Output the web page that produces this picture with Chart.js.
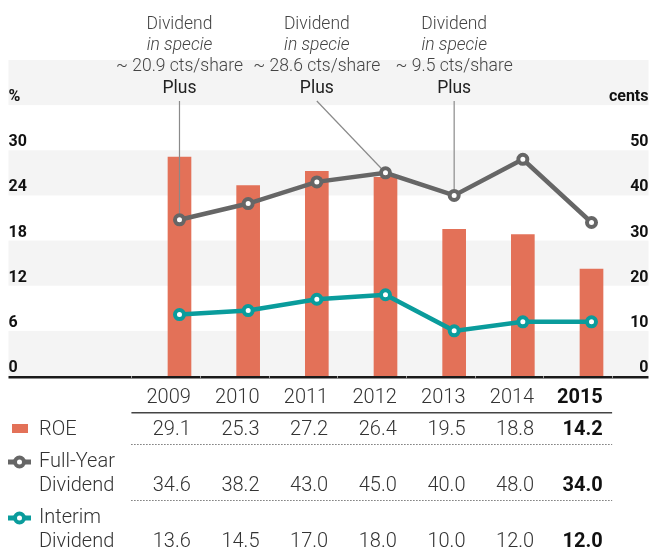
<!DOCTYPE html>
<html>
<head>
<meta charset="utf-8">
<script src="https://cdn.jsdelivr.net/npm/chart.js@4"></script>
<style>
  body { margin: 0; background: #fff; }
  #wrap { width: 657px; height: 557px; }
</style>
</head>
<body>
<div id="wrap"><canvas id="roeChart" width="657" height="557"></canvas></div>
<script>
const years = [2009, 2010, 2011, 2012, 2013, 2014, 2015];
const roe = [29.1, 25.3, 27.2, 26.4, 19.5, 18.8, 14.2];
const fullYearDividend = [34.6, 38.2, 43.0, 45.0, 40.0, 48.0, 34.0];
const interimDividend = [13.6, 14.5, 17.0, 18.0, 10.0, 12.0, 12.0];

// "Dividend in specie" notes: text above the year, leader to the full-year point
const noteYears = [2009, 2011, 2013];
const noteTargets = [2009, 2012, 2013];
const noteAmounts = ['~ 20.9 cts/share', '~ 28.6 cts/share', '~ 9.5 cts/share'];

const ORANGE = '#e37158';
const GREY = '#666666';
const TEAL = '#0a9c9c';
const TEXT = '#333333';

const fmt = v => v.toFixed(1);

// shaded bands go under everything, tick labels included
const bandsPlugin = {
    id: 'bands',
    beforeDraw(chart) {
        const {ctx, chartArea, scales} = chart;
        const y = scales.y;
        ctx.save();
        ctx.fillStyle = '#f4f4f4';
        for (let v = 0; v < 42; v += 12) {
            const top = y.getPixelForValue(v + 6);
            const bottom = y.getPixelForValue(v);
            ctx.fillRect(chartArea.left, top, chartArea.right - chartArea.left, bottom - top);
        }
        ctx.restore();
    }
};

// leader lines go over the bars but under the dividend lines
const leaderPlugin = {
    id: 'leaders',
    afterDatasetDraw(chart, args) {
        if (args.index !== 0) return;
        const {ctx, scales} = chart;
        const fy = chart.getDatasetMeta(1).data;
        ctx.save();
        ctx.strokeStyle = '#8a8a8a';
        ctx.lineWidth = 1.2;
        noteYears.forEach((yr, i) => {
            const sx = scales.x.getPixelForValue(yr);
            const pt = fy[years.indexOf(noteTargets[i])];
            ctx.beginPath();
            ctx.moveTo(sx, 101);
            if (Math.abs(pt.x - sx) < 1) {
                ctx.lineTo(pt.x, pt.y - 6);
            } else {
                const dx = pt.x - sx, dy = pt.y - 101, d = Math.hypot(dx, dy);
                ctx.lineTo(pt.x - dx / d * 6, pt.y - dy / d * 6);
            }
            ctx.stroke();
        });
        ctx.restore();
    }
};

const tablePlugin = {
    id: 'table',
    afterDraw(chart) {
        const {ctx, chartArea, scales} = chart;
        const x = scales.x;
        const step = x.getPixelForValue(years[1]) - x.getPixelForValue(years[0]);
        const colLeft = x.getPixelForValue(years[0]) - 0.7 * step;
        const colRight = x.getPixelForValue(years[years.length - 1]) + 0.3 * step;
        const base = scales.y.getPixelForValue(0);
        ctx.save();

        // axis line
        ctx.fillStyle = '#1a1a1a';
        ctx.fillRect(chartArea.left, base, chartArea.right - chartArea.left, 2.5);
        ctx.fillStyle = '#9a9a9a';
        for (let i = 0; i <= years.length; i++) {
            ctx.fillRect(Math.round(colLeft + i * step), base, 1, 2.5);
        }

        // notes above the chart
        ctx.textAlign = 'center';
        ctx.textBaseline = 'middle';
        noteYears.forEach((yr, i) => {
            const cx = x.getPixelForValue(yr);
            ctx.fillStyle = '#444';
            ctx.font = '300 17.5px Roboto';
            ctx.fillText('Dividend', cx, 25);
            ctx.font = 'italic 300 17.5px Roboto';
            ctx.fillText('in specie', cx, 46);
            ctx.font = '300 17.5px Roboto';
            ctx.fillText(noteAmounts[i], cx, 67);
            ctx.fillStyle = '#222';
            ctx.font = '400 17.5px Roboto';
            ctx.fillText('Plus', cx, 89);
        });

        // header row
        ctx.textAlign = 'right';
        years.forEach((yr, i) => {
            const last = i === years.length - 1;
            ctx.fillStyle = last ? '#111' : TEXT;
            ctx.font = (last ? 'bold ' : '300 ') + '20px Roboto';
            ctx.fillText(String(yr), x.getPixelForValue(yr) + 0.165 * step, 398);
        });
        ctx.fillStyle = '#444';
        ctx.fillRect(colLeft, 412, colRight - colLeft, 1.5);

        // dotted separators
        ctx.strokeStyle = '#333';
        ctx.lineWidth = 1;
        ctx.setLineDash([1, 2]);
        [444.5, 500.5].forEach(yy => {
            ctx.beginPath();
            ctx.moveTo(colLeft, yy);
            ctx.lineTo(colRight, yy);
            ctx.stroke();
        });
        ctx.setLineDash([]);

        const rows = [
            {values: roe, y: 430},
            {values: fullYearDividend, y: 486},
            {values: interimDividend, y: 542}
        ];
        rows.forEach(r => {
            r.values.forEach((v, i) => {
                const last = i === years.length - 1;
                ctx.fillStyle = last ? '#111' : TEXT;
                ctx.font = (last ? 'bold ' : '300 ') + '20px Roboto';
                ctx.fillText(fmt(v), x.getPixelForValue(years[i]) + 0.165 * step, r.y);
            });
        });

        // legend labels
        ctx.textAlign = 'left';
        ctx.fillStyle = TEXT;
        ctx.font = '300 20px Roboto';
        ctx.fillText('ROE', 39, 430);
        ctx.fillText('Full-Year', 39, 462);
        ctx.fillText('Dividend', 39, 486);
        ctx.fillText('Interim', 39, 518);
        ctx.fillText('Dividend', 39, 542);

        ctx.fillStyle = ORANGE;
        ctx.fillRect(12, 424, 16, 9);
        [[GREY, 462], [TEAL, 518]].forEach(([c, yy]) => {
            ctx.strokeStyle = c;
            ctx.lineWidth = 5;
            ctx.beginPath();
            ctx.moveTo(8, yy);
            ctx.lineTo(31, yy);
            ctx.stroke();
            ctx.beginPath();
            ctx.arc(19.5, yy, 4.5, 0, Math.PI * 2);
            ctx.fillStyle = '#fff';
            ctx.fill();
            ctx.lineWidth = 4;
            ctx.stroke();
        });
        ctx.restore();
    }
};

new Chart(document.getElementById('roeChart'), {
    data: {
        datasets: [
            {
                type: 'bar',
                label: 'ROE',
                data: years.map((yr, i) => ({x: yr, y: roe[i]})),
                backgroundColor: ORANGE,
                barThickness: 23,
                yAxisID: 'y',
                order: 3
            },
            {
                type: 'line',
                label: 'Full-Year Dividend',
                data: years.map((yr, i) => ({x: yr, y: fullYearDividend[i]})),
                borderColor: GREY,
                borderWidth: 4.5,
                pointRadius: 4.5,
                pointBorderWidth: 4,
                pointBackgroundColor: '#fff',
                pointBorderColor: GREY,
                yAxisID: 'y1',
                order: 2
            },
            {
                type: 'line',
                label: 'Interim Dividend',
                data: years.map((yr, i) => ({x: yr, y: interimDividend[i]})),
                borderColor: TEAL,
                borderWidth: 4.5,
                pointRadius: 4.5,
                pointBorderWidth: 4,
                pointBackgroundColor: '#fff',
                pointBorderColor: TEAL,
                yAxisID: 'y1',
                order: 1
            }
        ]
    },
    options: {
        responsive: false,
        animation: false,
        layout: { padding: { left: 8, right: 0, top: 60, bottom: 181 } },
        plugins: { legend: { display: false }, tooltip: { enabled: false } },
        scales: {
            x: {
                type: 'linear',
                display: false,
                offset: false,
                min: 2006.51,
                max: 2015.83
            },
            y: {
                position: 'left',
                min: 0,
                max: 42,
                grid: { display: false, drawTicks: false },
                border: { display: false },
                ticks: {
                    stepSize: 6,
                    autoSkip: false,
                    mirror: true,
                    padding: 0,
                    labelOffset: -8,
                    color: '#111',
                    font: { family: 'Roboto', size: 16, weight: 'bold' },
                    callback: v => v === 36 ? '%' : (v > 36 ? '' : v)
                }
            },
            y1: {
                position: 'right',
                min: 0,
                max: 70,
                grid: { display: false, drawTicks: false },
                border: { display: false },
                ticks: {
                    stepSize: 10,
                    autoSkip: false,
                    mirror: true,
                    padding: 0,
                    labelOffset: -8,
                    color: '#111',
                    font: { family: 'Roboto', size: 16, weight: 'bold' },
                    callback: v => v === 60 ? 'cents' : (v > 60 ? '' : v)
                }
            }
        }
    },
    plugins: [bandsPlugin, leaderPlugin, tablePlugin]
});
</script>
</body>
</html>
